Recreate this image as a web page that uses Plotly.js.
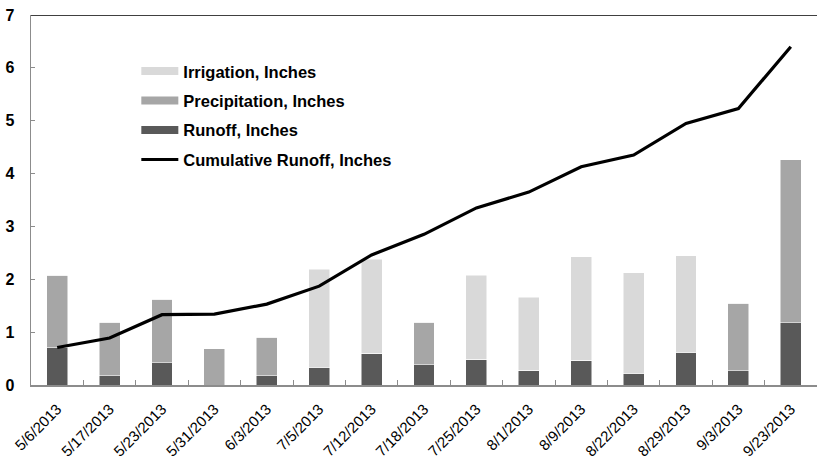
<!DOCTYPE html>
<html>
<head>
<meta charset="utf-8">
<script src="https://cdn.plot.ly/plotly-3.0.1.min.js"></script>
<style>html,body{margin:0;padding:0;background:#fff;}#chart{width:817px;height:461px;}</style>
</head>
<body>
<div id="chart"></div>
<script>
const dates = ["5/6/2013","5/17/2013","5/23/2013","5/31/2013","6/3/2013","7/5/2013","7/12/2013","7/18/2013","7/25/2013","8/1/2013","8/9/2013","8/22/2013","8/29/2013","9/3/2013","9/23/2013"];
const runoff = [0.71,0.18,0.42,0,0.18,0.33,0.60,0.38,0.49,0.28,0.47,0.21,0.61,0.27,1.18];
const precipitation = [1.37,1.01,1.20,0.69,0.72,0,0,0.81,0,0,0,0,0,1.28,3.08];
const irrigation = [0,0,0,0,0,1.86,1.78,0,1.59,1.38,1.96,1.91,1.84,0,0];
const cumulativeRunoff = [0.71,0.89,1.33,1.34,1.53,1.87,2.46,2.85,3.35,3.65,4.13,4.35,4.95,5.23,6.40];

const cRun = "#595959", cPre = "#a6a6a6", cIrr = "#d9d9d9";
const fam = "Liberation Sans, Arial, sans-serif";

const traces = [
  {type:"bar", x:dates, y:runoff, name:"Runoff, Inches", marker:{color:cRun, line:{color:"#fff", width:0.5}}, showlegend:false},
  {type:"bar", x:dates, y:precipitation, name:"Precipitation, Inches", marker:{color:cPre, line:{color:"#fff", width:0.5}}, showlegend:false},
  {type:"bar", x:dates, y:irrigation, name:"Irrigation, Inches", marker:{color:cIrr, line:{color:"#fff", width:0.5}}, showlegend:false},
  {type:"scatter", mode:"lines", x:dates, y:cumulativeRunoff, name:"Cumulative Runoff, Inches", line:{color:"#000", width:3.2}, showlegend:false},
  // legend entries
  {type:"scatter", mode:"lines", x:[null], y:[null], name:"<b>Irrigation, Inches</b>", line:{color:cIrr, width:8}, legendgroup:"a"},
  {type:"scatter", mode:"lines", x:[null], y:[null], name:"<b>Precipitation, Inches</b>", line:{color:cPre, width:8}, legendgroup:"b"},
  {type:"scatter", mode:"lines", x:[null], y:[null], name:"<b>Runoff, Inches</b>", line:{color:cRun, width:8}, legendgroup:"c"},
  {type:"scatter", mode:"lines", x:[null], y:[null], name:"<b>Cumulative Runoff, Inches</b>", line:{color:"#000", width:3}, legendgroup:"d"}
];

const layout = {
  width:817, height:461,
  margin:{l:31, r:0, t:15, b:76},
  paper_bgcolor:"#fff", plot_bgcolor:"#fff",
  font:{family:fam, color:"#000", size:14},
  barmode:"stack", bargap:0.6,
  showlegend:true,
  legend:{x:0.134, y:0.895, xanchor:"left", yanchor:"top", bgcolor:"rgba(0,0,0,0)", font:{family:fam, size:16.5, color:"#000"}, tracegroupgap:5, itemwidth:37, traceorder:"grouped"},
  xaxis:{type:"category", showline:true, linecolor:"#8c8c8c", linewidth:1.5, ticks:"inside", tickson:"boundaries", ticklen:5, tickcolor:"#8c8c8c", tickangle:-45, showgrid:false, zeroline:false,
    ticklabelstandoff:8, tickfont:{family:fam, size:15, color:"#000"}, fixedrange:true},
  yaxis:{range:[0,7], dtick:1, showline:true, linecolor:"#8c8c8c", linewidth:1.5, ticks:"inside", ticklen:4, tickcolor:"#8c8c8c", showgrid:false, zeroline:false,
    ticklabelstandoff:12, tickfont:{family:fam, size:16, color:"#000", weight:"bold"}, fixedrange:true},
  shapes:[{type:"line", xref:"paper", yref:"y", x0:0, x1:1, y0:7, y1:7, line:{color:"#000", width:1.5}}]
};

Plotly.newPlot("chart", traces, layout, {displayModeBar:false, staticPlot:true});
</script>
</body>
</html>
